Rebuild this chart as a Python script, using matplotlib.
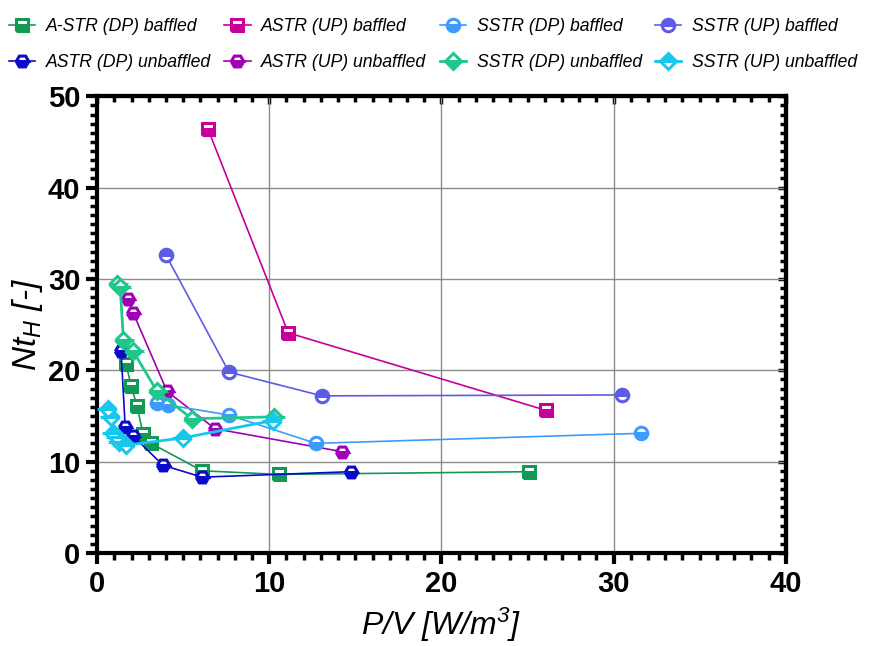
import numpy as np
import matplotlib
matplotlib.use("Agg")
import matplotlib.pyplot as plt
from matplotlib.ticker import MultipleLocator

plt.rcParams['font.family'] = ['Liberation Sans', 'DejaVu Sans']
plt.rcParams['mathtext.fontset'] = 'custom'
plt.rcParams['mathtext.it'] = 'Liberation Sans:italic'
plt.rcParams['mathtext.rm'] = 'Liberation Sans:italic'
plt.rcParams['mathtext.default'] = 'it'

# data
astr_dp_baf_x = [1.68, 1.97, 2.32, 2.67, 3.13, 6.1, 10.57, 25.1]
astr_dp_baf_y = [20.7, 18.3, 16.1, 13.0, 12.0, 9.0, 8.6, 8.9]

astr_up_baf_x = [6.44, 11.1, 26.1]
astr_up_baf_y = [46.4, 24.1, 15.6]

sstr_dp_baf_x = [3.48, 4.12, 7.66, 12.7, 31.6]
sstr_dp_baf_y = [16.4, 16.2, 15.1, 12.0, 13.1]

sstr_up_baf_x = [4.0, 7.66, 13.06, 30.5]
sstr_up_baf_y = [32.6, 19.8, 17.2, 17.3]

astr_dp_unb_x = [1.39, 1.63, 2.09, 3.83, 6.1, 14.75]
astr_dp_unb_y = [22.1, 13.8, 12.8, 9.6, 8.3, 8.9]

astr_up_unb_x = [1.8, 2.09, 4.06, 6.85, 14.2]
astr_up_unb_y = [27.8, 26.3, 17.7, 13.6, 11.1]

sstr_dp_unb_x = [1.16, 1.34, 1.53, 2.09, 3.48, 5.5, 10.3]
sstr_dp_unb_y = [29.4, 29.1, 23.3, 22.1, 17.7, 14.7, 14.9]

sstr_up_unb_x = [0.64, 0.81, 0.93, 1.16, 1.28, 1.68, 5.0, 10.2]
sstr_up_unb_y = [15.8, 14.9, 13.1, 12.7, 12.1, 11.8, 12.6, 14.5]

series = [
    ("A-STR (DP) baffled", astr_dp_baf_x, astr_dp_baf_y, '#129a55', 's', 'bottom', 1.2),
    ("ASTR (DP) unbaffled", astr_dp_unb_x, astr_dp_unb_y, '#0a0ac8', 'H', 'bottom', 1.2),
    ("ASTR (UP) baffled", astr_up_baf_x, astr_up_baf_y, '#c8009a', 's', 'bottom', 1.2),
    ("ASTR (UP) unbaffled", astr_up_unb_x, astr_up_unb_y, '#a000b4', 'H', 'bottom', 1.2),
    ("SSTR (DP) baffled", sstr_dp_baf_x, sstr_dp_baf_y, '#3d9bff', 'o', 'bottom', 1.2),
    ("SSTR (DP) unbaffled", sstr_dp_unb_x, sstr_dp_unb_y, '#1ec88a', 'D', 'bottom', 2.0),
    ("SSTR (UP) baffled", sstr_up_baf_x, sstr_up_baf_y, '#5c5ce6', 'o', 'top', 1.2),
    ("SSTR (UP) unbaffled", sstr_up_unb_x, sstr_up_unb_y, '#18c8ec', 'D', 'top', 2.0),
]

fig = plt.figure(figsize=(8.75, 6.46), dpi=100)
ax = fig.add_axes([0.111, 0.144, 0.787, 0.707])

for label, x, y, c, m, fs, lw in series:
    ms = 9 if m != 'D' else 8.5
    ax.plot(x, y, color=c, lw=lw, marker=m, ms=ms, mew=2.2,
            fillstyle=fs, mfc=c, mfcalt='white', mec=c, label=label, zorder=3)

ax.set_xlim(0, 40)
ax.set_ylim(0, 50)
ax.xaxis.set_major_locator(MultipleLocator(10))
ax.xaxis.set_minor_locator(MultipleLocator(1))
ax.yaxis.set_major_locator(MultipleLocator(10))
ax.yaxis.set_minor_locator(MultipleLocator(1))
ax.grid(True, which='major', color='#8c8c8c', lw=1, zorder=0)

for s in ax.spines.values():
    s.set_linewidth(3)
ax.tick_params(which='major', direction='out', length=8, width=3, labelsize=21, pad=4)
ax.tick_params(which='minor', direction='out', length=5, width=2.5)
for t in ax.get_xticklabels() + ax.get_yticklabels():
    t.set_fontweight('bold')

top = ax.secondary_xaxis('top')
top.xaxis.set_major_locator(MultipleLocator(10))
top.xaxis.set_minor_locator(MultipleLocator(1))
top.tick_params(which='both', direction='in', labeltop=False, width=2.5)
top.tick_params(which='major', length=6)
top.tick_params(which='minor', length=4)
right = ax.secondary_yaxis('right')
right.yaxis.set_major_locator(MultipleLocator(10))
right.yaxis.set_minor_locator(MultipleLocator(1))
right.tick_params(which='both', direction='in', labelright=False, width=2.5)
right.tick_params(which='major', length=6)
right.tick_params(which='minor', length=4)
for s in list(top.spines.values()) + list(right.spines.values()):
    s.set_linewidth(3)

ax.set_xlabel("P/V [W/m$^3$]", fontsize=23, style='italic', labelpad=6)
ax.set_ylabel("Nt$_H$ [-]", fontsize=24, style='italic', labelpad=2)

fig.legend(loc='upper left', bbox_to_anchor=(0.004, 0.98), ncol=4, frameon=False,
           prop={'style': 'italic', 'size': 12.7}, handlelength=1.5,
           columnspacing=0.75, handletextpad=0.6, labelspacing=1.05,
           borderaxespad=0.0, borderpad=0.3)

fig.savefig("out.png", dpi=100)
